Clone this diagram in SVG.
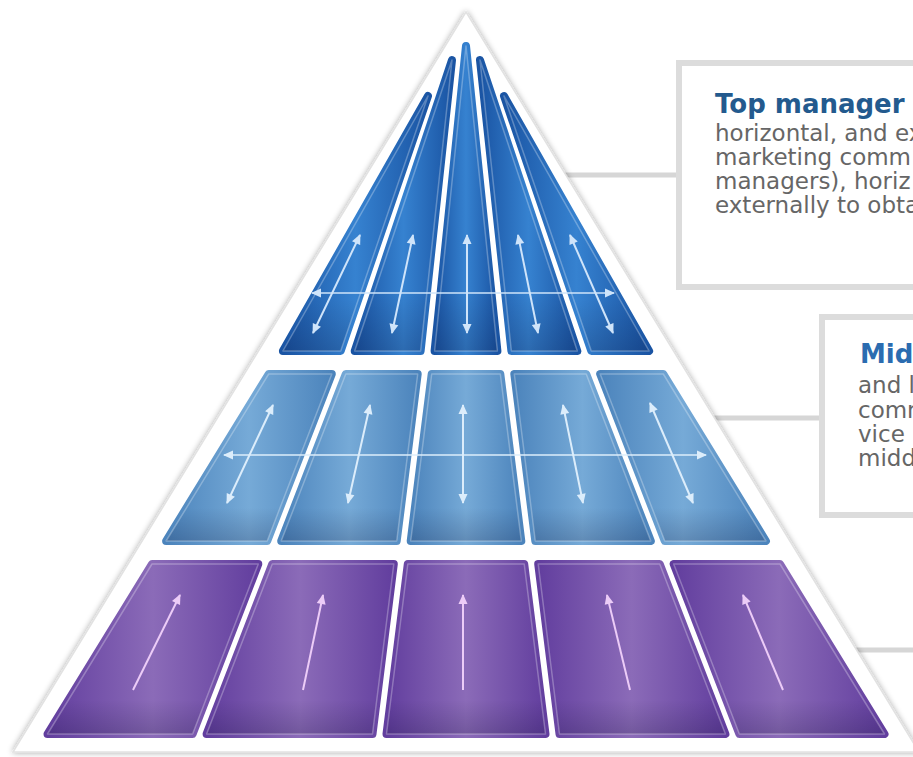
<svg xmlns="http://www.w3.org/2000/svg" width="913" height="757" viewBox="0 0 913 757">
<defs>
<style>
.c{stroke-width:8;stroke-linejoin:round}
.t{fill:url(#gt);stroke:url(#gt)}
.m{fill:url(#gm);stroke:url(#gm)}
.b{fill:url(#gb);stroke:url(#gb)}
.hl{fill:url(#sh);stroke:#ffffff;stroke-opacity:0.28;stroke-width:1.5;stroke-linejoin:round}
.conn{stroke:#d6d6d6;stroke-width:5;fill:none}
.box{fill:#ffffff;stroke:#dcdcdc;stroke-width:6}
.ttl{font-family:"DejaVu Sans",sans-serif;font-weight:bold;font-size:26px}
.txt{font-family:"DejaVu Sans",sans-serif;font-size:23px;fill:#666666}
.at{stroke:#cfe4fa;stroke-width:2;fill:none;marker-start:url(#mt);marker-end:url(#mt)}
.am{stroke:#dcedfb;stroke-width:2;fill:none;marker-start:url(#mm);marker-end:url(#mm)}
.ab{stroke:#ecccf7;stroke-width:2;fill:none;marker-end:url(#mb)}
</style>
<linearGradient id="gt" x1="0" y1="0" x2="1" y2="0">
<stop offset="0" stop-color="#1a54a3"/><stop offset="0.5" stop-color="#3682d0"/><stop offset="1" stop-color="#1a54a3"/>
</linearGradient>
<linearGradient id="gm" x1="0" y1="0" x2="1" y2="0">
<stop offset="0" stop-color="#4c84bc"/><stop offset="0.5" stop-color="#76aad7"/><stop offset="1" stop-color="#4c84bc"/>
</linearGradient>
<linearGradient id="gb" x1="0" y1="0" x2="1" y2="0">
<stop offset="0" stop-color="#623e9e"/><stop offset="0.5" stop-color="#8b6bb8"/><stop offset="1" stop-color="#623e9e"/>
</linearGradient>
<linearGradient id="sh" x1="0" y1="0" x2="0" y2="1">
<stop offset="0" stop-color="#000020" stop-opacity="0"/><stop offset="0.8" stop-color="#000020" stop-opacity="0"/><stop offset="1" stop-color="#000020" stop-opacity="0.18"/>
</linearGradient>
<filter id="shadow" x="-10%" y="-10%" width="120%" height="120%">
<feGaussianBlur in="SourceAlpha" stdDeviation="3"/>
<feComponentTransfer><feFuncA type="linear" slope="0.35"/></feComponentTransfer>
<feMerge><feMergeNode/><feMergeNode in="SourceGraphic"/></feMerge>
</filter>
<marker id="mt" viewBox="0 0 10 10" refX="9" refY="5" markerWidth="11" markerHeight="10" markerUnits="userSpaceOnUse" orient="auto-start-reverse"><path d="M0,0.5 L10,5 L0,9.5 z" fill="#cfe4fa"/></marker>
<marker id="mm" viewBox="0 0 10 10" refX="9" refY="5" markerWidth="11" markerHeight="10" markerUnits="userSpaceOnUse" orient="auto-start-reverse"><path d="M0,0.5 L10,5 L0,9.5 z" fill="#dcedfb"/></marker>
<marker id="mb" viewBox="0 0 10 10" refX="9" refY="5" markerWidth="11" markerHeight="10" markerUnits="userSpaceOnUse" orient="auto"><path d="M0,0.5 L10,5 L0,9.5 z" fill="#ecccf7"/></marker>
</defs>
<rect x="0" y="0" width="913" height="757" fill="#ffffff"/>

<g id="connectors">
<line class="conn" x1="560" y1="175" x2="679" y2="175"/>
<line class="conn" x1="705" y1="418" x2="822" y2="418"/>
<line class="conn" x1="850" y1="650" x2="913" y2="650"/>
</g>

<g id="box-top">
<rect class="box" x="679" y="63" width="260" height="224"/>
<text class="ttl" x="715" y="113" fill="#235a8e">Top manager</text>
<text class="txt" x="715" y="141">horizontal, and ex</text>
<text class="txt" x="715" y="165">marketing comm</text>
<text class="txt" x="715" y="189">managers), horiz</text>
<text class="txt" x="715" y="213">externally to obta</text>
</g>

<g id="box-mid">
<rect class="box" x="822" y="317" width="120" height="198"/>
<text class="ttl" x="860" y="363" fill="#2b6cb0">Mid</text>
<text class="txt" x="858" y="393">and l</text>
<text class="txt" x="858" y="418">comm</text>
<text class="txt" x="858" y="442">vice p</text>
<text class="txt" x="858" y="466">midd</text>
</g>

<g id="pyramid-frame">
<path d="M466,12 L919,752 L13,752 Z" fill="#ffffff" stroke="#e2e2e2" stroke-width="1.5" filter="url(#shadow)"/>
</g>

<g id="top-tier">
<g id="t0"><polygon class="c t" points="428,96 340.7,351 282.9,351"/><polygon class="hl" points="428,96 340.7,351 282.9,351"/></g>
<g id="t1"><polygon class="c t" points="452,60 420.6,351 354.7,351"/><polygon class="hl" points="452,60 420.6,351 354.7,351"/></g>
<g id="t2"><polygon class="c t" points="466,46 497.4,351 434.6,351"/><polygon class="hl" points="466,46 497.4,351 434.6,351"/></g>
<g id="t3"><polygon class="c t" points="480,60 577.3,351 511.4,351"/><polygon class="hl" points="480,60 577.3,351 511.4,351"/></g>
<g id="t4"><polygon class="c t" points="504,96 649.1,351 591.3,351"/><polygon class="hl" points="504,96 649.1,351 591.3,351"/></g>
</g>

<g id="mid-tier">
<g id="m0"><polygon class="c m" points="268.7,374 331.8,374 267.2,541 166.1,541"/><polygon class="hl" points="268.7,374 331.8,374 267.2,541 166.1,541"/></g>
<g id="m1"><polygon class="c m" points="345.8,374 417.7,374 396.7,541 281.2,541"/><polygon class="hl" points="345.8,374 417.7,374 396.7,541 281.2,541"/></g>
<g id="m2"><polygon class="c m" points="431.7,374 500.3,374 521.3,541 410.7,541"/><polygon class="hl" points="431.7,374 500.3,374 521.3,541 410.7,541"/></g>
<g id="m3"><polygon class="c m" points="514.3,374 586.2,374 650.8,541 535.3,541"/><polygon class="hl" points="514.3,374 586.2,374 650.8,541 535.3,541"/></g>
<g id="m4"><polygon class="c m" points="600.2,374 663.3,374 765.9,541 664.8,541"/><polygon class="hl" points="600.2,374 663.3,374 765.9,541 664.8,541"/></g>
</g>

<g id="bottom-tier">
<g id="b0"><polygon class="c b" points="152,564 258.3,564 192.6,734 47.5,734"/><polygon class="hl" points="152,564 258.3,564 192.6,734 47.5,734"/></g>
<g id="b1"><polygon class="c b" points="272.3,564 393.8,564 372.5,734 206.6,734"/><polygon class="hl" points="272.3,564 393.8,564 372.5,734 206.6,734"/></g>
<g id="b2"><polygon class="c b" points="407.8,564 524.2,564 545.5,734 386.5,734"/><polygon class="hl" points="407.8,564 524.2,564 545.5,734 386.5,734"/></g>
<g id="b3"><polygon class="c b" points="538.2,564 659.7,564 725.4,734 559.5,734"/><polygon class="hl" points="538.2,564 659.7,564 725.4,734 559.5,734"/></g>
<g id="b4"><polygon class="c b" points="673.7,564 780,564 884.5,734 739.4,734"/><polygon class="hl" points="673.7,564 780,564 884.5,734 739.4,734"/></g>
</g>

<g id="arrows">
<line class="at" x1="360" y1="235" x2="313" y2="333"/>
<line class="at" x1="413" y1="235" x2="392" y2="333"/>
<line class="at" x1="467" y1="235" x2="467" y2="333"/>
<line class="at" x1="518" y1="235" x2="538" y2="333"/>
<line class="at" x1="570" y1="235" x2="613" y2="333"/>
<line class="at" x1="312" y1="293" x2="614" y2="293" stroke-opacity="0.75"/>
<line class="am" x1="273" y1="405" x2="227" y2="503"/>
<line class="am" x1="370" y1="405" x2="348" y2="503"/>
<line class="am" x1="463" y1="405" x2="463" y2="503"/>
<line class="am" x1="563" y1="405" x2="583" y2="503"/>
<line class="am" x1="650" y1="403" x2="693" y2="503"/>
<line class="am" x1="224" y1="455" x2="706" y2="455" stroke-opacity="0.75"/>
<line class="ab" x1="133" y1="690" x2="180" y2="595"/>
<line class="ab" x1="303" y1="690" x2="323" y2="595"/>
<line class="ab" x1="463" y1="690" x2="463" y2="595"/>
<line class="ab" x1="630" y1="690" x2="607" y2="595"/>
<line class="ab" x1="783" y1="690" x2="743" y2="595"/>
</g>
</svg>
